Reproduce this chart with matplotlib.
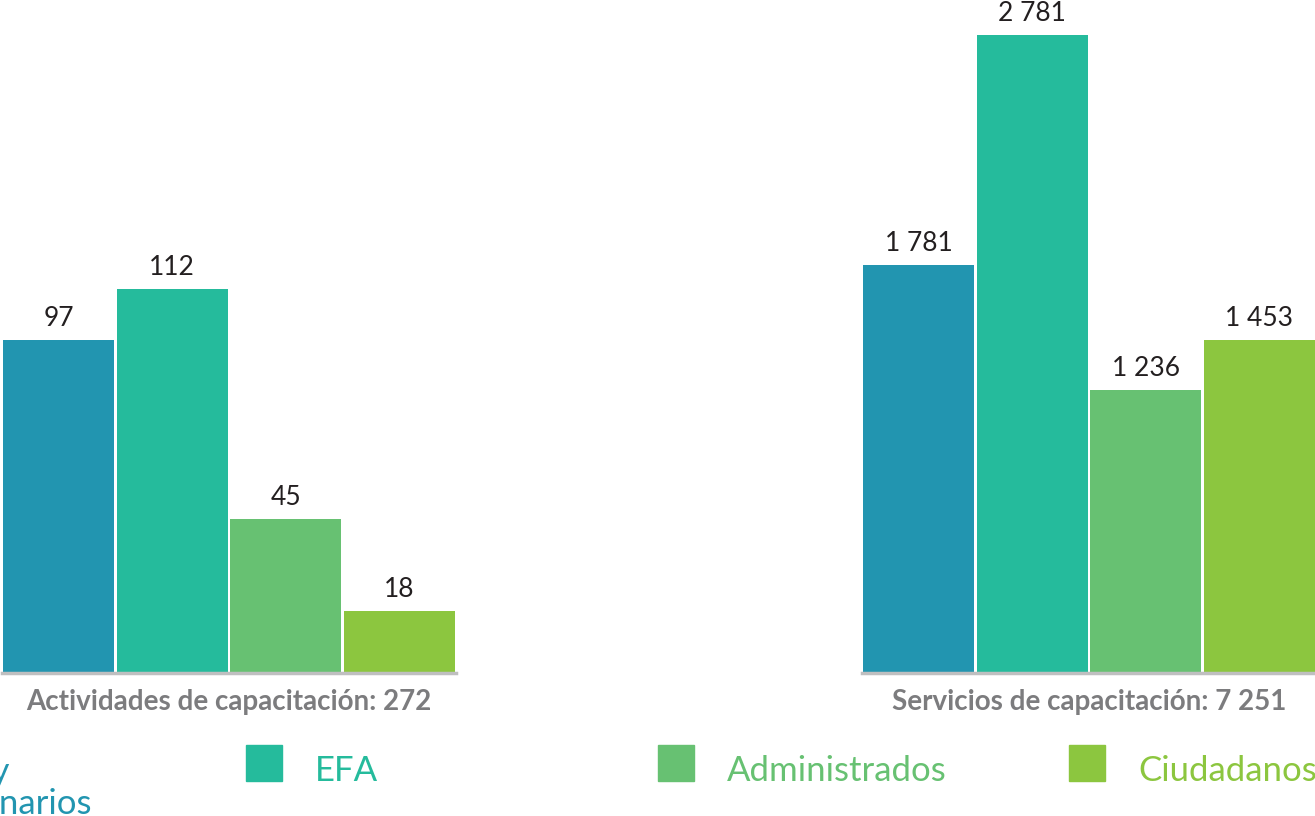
import matplotlib.pyplot as plt
from matplotlib.patches import Rectangle

plt.rcParams['font.family'] = ['Lato', 'DejaVu Sans']

# datos de capacitación por público objetivo
publicos = ['Jefes y\nfuncionarios', 'EFA', 'Administrados', 'Ciudadanos']
colores = ['#2295b0', '#25bb9c', '#67c172', '#8cc63f']

actividades = [97, 112, 45, 18]
servicios = [1781, 2781, 1236, 1453]

titulo_act = 'Actividades de capacitación: 272'
titulo_serv = 'Servicios de capacitación: 7 251'


def miles(v):
    return f'{v:,}'.replace(',', ' ')


W, H = 1315, 816
fig = plt.figure(figsize=(W / 100, H / 100), dpi=100)

ax1 = fig.add_axes([2 / W, 143 / H, 454 / W, 673 / H])
ax2 = fig.add_axes([862 / W, 143 / H, 454 / W, 673 / H])


def draw_panel(ax, valores, ymax, titulo):
    pos = range(len(valores))
    ax.bar(pos, valores, width=0.978, color=colores)
    for x, v in zip(pos, valores):
        ax.annotate(miles(v), (x, v), xytext=(0, 10), textcoords='offset points',
                    ha='center', va='baseline', fontsize=19, color='#231f20')
    ax.set_xlim(-0.5, 3.5)
    ax.set_ylim(0, ymax)
    ax.axhline(0, color='#bfbfc0', lw=2.5, clip_on=False)
    ax.axis('off')
    ax.annotate(titulo, (0.5, 0), xycoords='axes fraction', xytext=(0, -21),
                textcoords='offset points', ha='center', va='center',
                fontsize=20, fontweight='bold', color='#7c7c7e')


draw_panel(ax1, actividades, 196.2, titulo_act)
draw_panel(ax2, servicios, 2935, titulo_serv)

# leyenda en una fila; la primera entrada queda fuera por la izquierda
x0 = -165.5
for i, (nombre, c) in enumerate(zip(publicos, colores)):
    xs = x0 + i * 411.5
    fig.patches.append(Rectangle((xs / W, (H - 781) / H), 36 / W, 36 / H,
                                 transform=fig.transFigure, color=c))
    if '\n' in nombre:
        fig.text(92 / W, (H - 788) / H, nombre, ha='right', va='center',
                 multialignment='left', fontsize=25, color=c, linespacing=1.0)
    else:
        fig.text((xs + 69) / W, (H - 771) / H, nombre, ha='left', va='center',
                 fontsize=25, color=c)

fig.savefig('out.png', dpi=100)
